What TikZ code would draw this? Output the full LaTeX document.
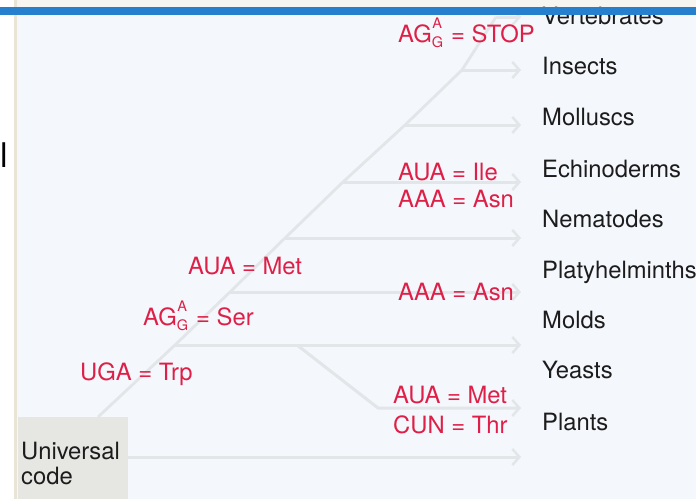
\documentclass[tikz,border=0pt]{standalone}
\usepackage{fontspec}
\setmainfont{TeX Gyre Heros}
\usetikzlibrary{arrows.meta}

\definecolor{panelbg}{RGB}{244,247,251}
\definecolor{stripbg}{RGB}{246,245,240}
\definecolor{edgebeige}{RGB}{232,228,214}
\definecolor{barblue}{RGB}{38,128,206}
\definecolor{linegray}{RGB}{227,230,233}
\definecolor{boxgray}{RGB}{230,230,227}
\definecolor{labelblack}{RGB}{28,28,28}
\definecolor{codered}{RGB}{222,32,72}

% stacked alternative bases written after a codon prefix (e.g. AG with A over G)
\newcommand{\codonstack}[2]{%
  \makebox[0pt][l]{\hspace{0.5pt}\raisebox{14pt}{\fontsize{14.5}{14}\selectfont #1}}%
  \raisebox{-5pt}{\fontsize{14.5}{14}\selectfont #2}\hspace{1.5pt}}

\tikzset{
  organism/.style={anchor=base west, inner sep=0pt,
    font=\fontsize{23.8}{26}\selectfont, text=labelblack},
  codechange/.style={anchor=base west, inner sep=0pt,
    font=\fontsize{23.8}{26}\selectfont, text=codered},
  trunkline/.style={draw=linegray, line width=2.8pt, line join=round},
  branch/.style={draw=linegray, line width=3pt, line join=round,
    -{Straight Barb[length=7pt,width=16pt,line width=2.5pt]}},
  ucbox/.style={rectangle, fill=boxgray, draw=none, inner sep=0pt,
    minimum width=110pt, minimum height=82pt, anchor=north west}
}

\begin{document}
\begin{tikzpicture}[x=1pt,y=-1pt]
  \useasboundingbox (0,0) rectangle (696,499);

  % page and panel
  \fill[white] (0,0) rectangle (696,499);
  \fill[stripbg] (16,0) rectangle (696,8);
  \fill[panelbg] (16,14) rectangle (696,499);
  \fill[edgebeige] (14,0) rectangle (16.5,499);

  % fragment of running text at the left margin
  \node[anchor=base west, inner sep=0pt, font=\rmfamily\fontsize{34}{34}\selectfont,
        text=black] (margintext) at (0,167) {l};

  % universal code box
  \node[ucbox] (uc) at (18,417) {};
  \node[organism] (ucline1) at (21,459) {Universal};
  \node[organism] (ucline2) at (21,484) {code};

  % branch points along the trunk
  \coordinate (root)  at (98,417);
  \coordinate (bmold) at (175,345);
  \coordinate (bplat) at (230,292);
  \coordinate (bnema) at (285,238);
  \coordinate (bechi) at (343,182);
  \coordinate (bmoll) at (405,125);
  \coordinate (binse) at (462,70);
  \coordinate (bvert) at (496,17);
  \coordinate (byeast) at (297,345);
  \coordinate (kyeast) at (378,408);

  % arrow tips
  \coordinate (tvert)  at (521,17);
  \coordinate (tinse)  at (521,70);
  \coordinate (tmoll)  at (521,125);
  \coordinate (techi)  at (521,182);
  \coordinate (tnema)  at (521,238);
  \coordinate (tplat)  at (521,292);
  \coordinate (tmold)  at (521,345);
  \coordinate (tyeast) at (521,408);
  \coordinate (tplant) at (521,457);

  % trunk
  \draw[trunkline] (root) -- (bmold) -- (bplat) -- (bnema) -- (bechi)
                   -- (bmoll) -- (binse) -- (bvert);

  % branches
  \draw[branch] (bvert) -- (tvert);
  \draw[branch] (binse) -- (tinse);
  \draw[branch] (bmoll) -- (tmoll);
  \draw[branch] (bechi) -- (techi);
  \draw[branch] (bnema) -- (tnema);
  \draw[branch] (bplat) -- (tplat);
  \draw[branch] (bmold) -- (tmold);
  \draw[branch] (byeast) -- (kyeast) -- (tyeast);
  \draw[branch] (uc.east |- tplant) -- (tplant);

  % organisms
  \node[organism] (vert) at (542,24)  {Vertebrates};
  \node[organism] (inse) at (542,74)  {Insects};
  \node[organism] (moll) at (542,125) {Molluscs};
  \node[organism] (echi) at (542,177) {Echinoderms};
  \node[organism] (nema) at (542,227) {Nematodes};
  \node[organism] (plat) at (542,278) {Platyhelminths};
  \node[organism] (mold) at (542,328) {Molds};
  \node[organism] (yeas) at (542,378) {Yeasts};
  \node[organism] (plan) at (542,430) {Plants};

  % codon reassignments
  \node[codechange] (cstop) at (398,42)  {AG\codonstack{A}{G} = STOP};
  \node[codechange] (cile)  at (398,180) {AUA = Ile};
  \node[codechange] (casn1) at (398,207) {AAA = Asn};
  \node[codechange] (casn2) at (398,300) {AAA = Asn};
  \node[codechange] (cmety) at (393,403) {AUA = Met};
  \node[codechange] (cthr)  at (393,433) {CUN = Thr};
  \node[codechange] (cmet)  at (188,274) {AUA = Met};
  \node[codechange] (cser)  at (143,325) {AG\codonstack{A}{G} = Ser};
  \node[codechange] (ctrp)  at (80,380)  {UGA = Trp};

  % window bar across the top
  \fill[barblue] (0,7) rectangle (696,14.5);
\end{tikzpicture}
\end{document}
